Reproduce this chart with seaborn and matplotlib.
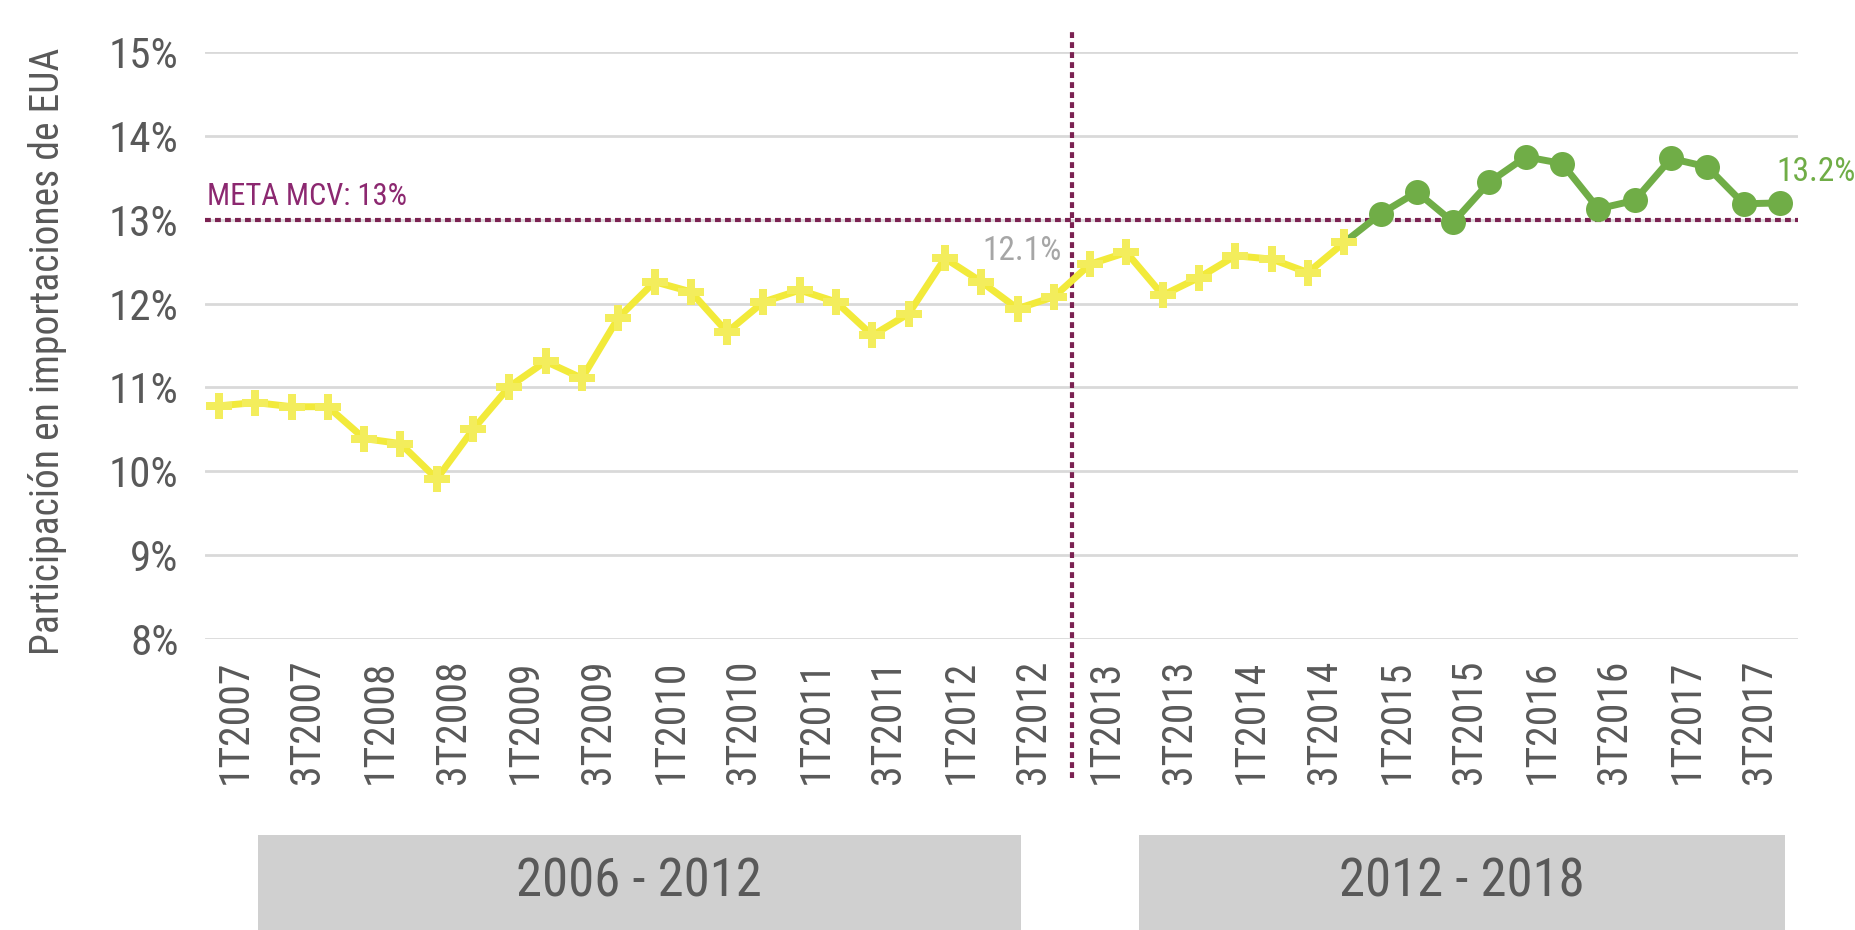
import numpy as np
import pandas as pd
import matplotlib
matplotlib.use("Agg")
import matplotlib.pyplot as plt
import seaborn as sns
from matplotlib import font_manager
from matplotlib.patches import Rectangle

# Data
trimestres = [f"{q}T{y}" for y in range(2007, 2018) for q in range(1, 5)]
participacion = [10.78, 10.82, 10.77, 10.77, 10.39, 10.33, 9.91, 10.50,
                 11.01, 11.31, 11.11, 11.83, 12.26, 12.14, 11.66, 12.02,
                 12.16, 12.02, 11.62, 11.88, 12.54, 12.26, 11.94, 12.08,
                 12.47, 12.61, 12.10, 12.31, 12.57, 12.53, 12.37, 12.73,
                 13.07, 13.33, 12.97, 13.45, 13.75, 13.67, 13.13, 13.23,
                 13.73, 13.63, 13.19, 13.20]
ultimo_sexenio_1 = 31          # last quarter drawn in yellow (4T2014)
corte_sexenio = 23.5           # between 4T2012 and 1T2013
meta_mcv = 13.0
yticks = [8, 9, 10, 11, 12, 13, 14, 15]
periodos = ["2006 - 2012", "2012 - 2018"]


def pick_font(names):
    for name in names:
        try:
            font_manager.findfont(font_manager.FontProperties(family=name),
                                  fallback_to_default=False)
            return name
        except ValueError:
            continue
    return "DejaVu Sans"


sns.set_theme(style="white")
narrow = pick_font(["Liberation Sans Narrow", "Roboto Condensed", "DejaVu Sans"])
plt.rcParams["font.family"] = [narrow, "DejaVu Sans"]

df = pd.DataFrame({"trimestre": trimestres,
                   "pos": np.arange(len(trimestres)),
                   "valor": participacion})
amarillo = df.iloc[:ultimo_sexenio_1 + 1]
verde = df.iloc[ultimo_sexenio_1:]

fig = plt.figure(figsize=(18.55, 9.3), dpi=100)
ax = fig.add_axes([0.1105, 0.3129, 0.8588, 0.6312])

# green part first so the yellow marker sits on top at the joint
sns.lineplot(data=verde, x="pos", y="valor", ax=ax, color="#70AD47",
             linewidth=5, marker="o", markersize=18, markeredgewidth=0,
             markevery=list(range(1, len(verde))), zorder=3)
sns.lineplot(data=amarillo, x="pos", y="valor", ax=ax, color="#F2EA3A",
             linewidth=5, marker="P", markersize=19, markeredgewidth=0,
             markerfacecolor="#F3ED5C", zorder=4)

# meta line and period cut
ax.axhline(meta_mcv, color="#7B2252", linewidth=3, linestyle=(0, (1.4, 1.0)),
           zorder=2)
ax.axvline(corte_sexenio, ymin=-0.237, ymax=1.034, color="#7B2252",
           linewidth=3, linestyle=(0, (1.4, 1.0)), clip_on=False, zorder=2)

ax.text(-0.33, meta_mcv + 0.1, f"META MCV: {meta_mcv:.0f}%", color="#8C2870",
        fontsize=22, ha="left", va="bottom")
ax.text(23.22, 12.63, f"{participacion[23]:.1f}%", color="#A6A6A6",
        fontsize=24, ha="right", va="center")
ax.text(42.9, 13.57, f"{participacion[-1]:.1f}%", color="#70AD47",
        fontsize=24, ha="left", va="center")

ax.set_xlim(-0.386, 43.5)
ax.set_ylim(8, 15)
ax.set_yticks(yticks)
ax.set_yticklabels([f"{v}%" for v in yticks])
ax.set_xticks(df["pos"][::2] + 0.45)
ax.set_xticklabels(df["trimestre"][::2], rotation=90, va="top", ha="center")
ax.tick_params(axis="y", length=0, pad=19, labelsize=31, labelcolor="#595959")
ax.tick_params(axis="x", length=0, pad=15, labelsize=30, labelcolor="#595959")
ax.yaxis.grid(True, color="#D9D9D9", linewidth=2)
ax.xaxis.grid(False)
sns.despine(ax=ax, left=True, bottom=True)
ax.set_xlabel("")
ax.set_ylabel("Participación en importaciones de EUA", fontsize=28.5,
              color="#595959", va="center")
ax.yaxis.set_label_coords(-0.099, 0.49)

# period bands under the axis
bandas = [(0.1391, 0.4111), (0.6140, 0.3483)]
for (x0, w), nombre in zip(bandas, periodos):
    fig.patches.append(Rectangle((x0, 0), w, 0.1022, transform=fig.transFigure,
                                 facecolor="#D0D0D0", edgecolor="none"))
    fig.text(x0 + w / 2, 0.0516, nombre, fontsize=38, color="#595959",
             ha="center", va="center")

fig.savefig("out.png", dpi=100)
